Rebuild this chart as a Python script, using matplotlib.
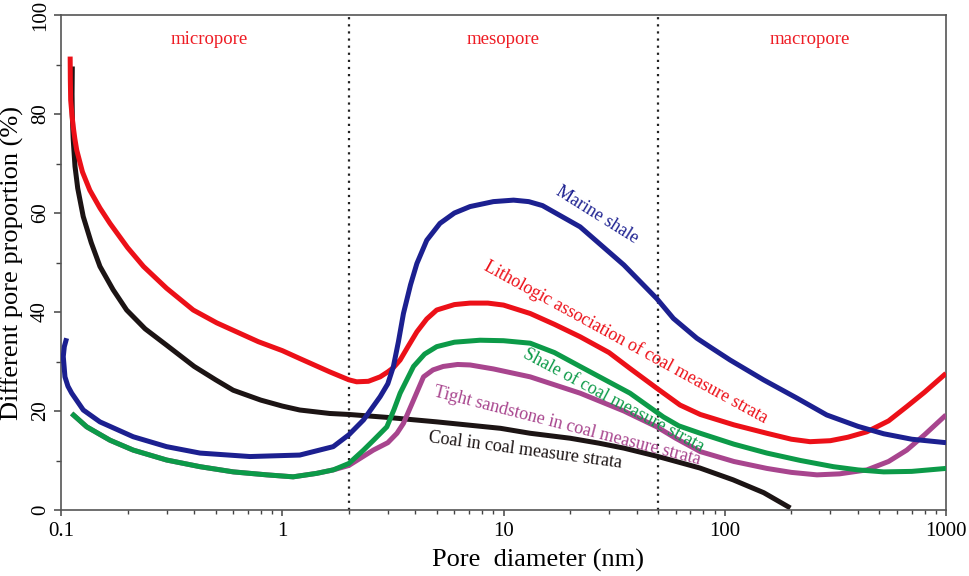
import numpy as np
import matplotlib
matplotlib.use('Agg')
import matplotlib.pyplot as plt
from matplotlib.ticker import FixedLocator, LogLocator, NullFormatter, MultipleLocator

plt.rcParams['font.family'] = ['Liberation Serif', 'DejaVu Serif']

# pore diameter (nm) / proportion (%)
coal_x = [0.1125, 0.1122, 0.1125, 0.1135, 0.1157, 0.119, 0.126, 0.137, 0.150, 0.172, 0.198,
          0.24, 0.30, 0.40, 0.50, 0.60, 0.80, 1.0, 1.2, 1.64, 2.0, 3.0, 5.0, 9.7, 13.2, 20,
          27, 35, 50, 77, 109, 150, 198]
coal_y = [89.6, 84.0, 79.5, 75.0, 69.4, 65.0, 59.3, 54.0, 49.2, 44.5, 40.4,
          36.6, 33.3, 29.0, 26.3, 24.2, 22.2, 21.0, 20.2, 19.5, 19.3, 18.7, 17.8, 16.5, 15.5, 14.5,
          13.5, 12.5, 10.8, 8.5, 6.1, 3.5, 0.4]

litho_x = [0.110, 0.1102, 0.1106, 0.112, 0.1135, 0.1155, 0.1178, 0.125, 0.135, 0.15, 0.1665,
           0.2, 0.236, 0.3, 0.396, 0.506, 0.78, 1.0, 1.2, 1.64, 2.0, 2.17, 2.45, 2.77, 3.0,
           3.17, 3.41, 3.7, 4.06, 4.5, 4.99, 6.0, 7.06, 8.5, 10, 13.2, 17, 22.2, 30, 37.3,
           49.3, 62.8, 77.5, 110, 155, 200, 243, 300, 360, 439, 550, 665, 800, 1000]
litho_y = [91.6, 87.0, 82.8, 80.0, 77.5, 75.0, 72.7, 68.3, 64.6, 61.0, 57.9,
           53.0, 49.2, 44.8, 40.4, 37.8, 34.0, 32.2, 30.6, 27.9, 26.3, 25.9, 26.0, 26.9, 27.9,
           28.7, 30.3, 33.0, 36.0, 38.6, 40.4, 41.5, 41.8, 41.8, 41.4, 39.7, 37.5, 35.0, 31.8, 28.6,
           24.6, 21.2, 19.3, 17.2, 15.5, 14.3, 13.8, 14.0, 14.7, 15.8, 18.0, 20.9, 23.8, 27.6]

marine_x = [0.106, 0.1035, 0.1024, 0.1042, 0.1075, 0.1118, 0.1261, 0.150, 0.212, 0.30,
            0.425, 0.715, 1.2, 1.70, 2.0, 2.33, 2.77, 3.0, 3.18, 3.35, 3.53, 3.8, 4.06,
            4.5, 5.16, 6.0, 7.06, 9.0, 11.1, 13, 15, 22.2, 35, 49.3, 58.6, 74.8, 88.8, 105.7,
            149.6, 212, 289, 400, 523, 700, 1000]
marine_y = [34.7, 33.0, 31.0, 26.9, 25.0, 23.6, 20.2, 17.8, 14.8, 12.8,
            11.5, 10.8, 11.1, 12.8, 15.2, 18.2, 22.9, 25.5, 29.0, 34.0, 39.7, 45.5, 49.8,
            54.5, 57.9, 60.0, 61.3, 62.3, 62.6, 62.3, 61.5, 57.2, 49.5, 42.7, 38.7, 34.7, 32.5, 30.3,
            26.3, 22.6, 19.2, 16.9, 15.4, 14.3, 13.6]

shale_x = [0.1118, 0.1307, 0.1665, 0.212, 0.30, 0.425, 0.601, 0.851, 1.12, 1.43, 1.70,
           2.0, 2.33, 2.6, 2.97, 3.2, 3.41, 3.92, 4.4, 4.99, 6.0, 7.83, 10, 13.2, 17, 22.2,
           37.3, 52.8, 62, 77.5, 110, 155, 220, 310, 400, 523, 700, 1000]
shale_y = [19.5, 16.8, 14.1, 12.1, 10.1, 8.75, 7.7, 7.1, 6.7, 7.4, 8.1,
           9.4, 12.1, 14.2, 16.8, 20.3, 23.6, 29.0, 31.5, 33.0, 33.9, 34.3, 34.2, 33.7, 31.8, 29.0,
           23.6, 18.8, 17.0, 15.5, 13.3, 11.5, 10.0, 8.75, 8.1, 7.7, 7.8, 8.4]

tight_x = [0.1118, 0.1307, 0.1665, 0.212, 0.30, 0.425, 0.601, 0.851, 1.12, 1.43, 1.70,
           2.0, 2.58, 3.0, 3.3, 3.53, 3.92, 4.35, 4.8, 5.34, 6.2, 7.06, 9.0, 13.2, 22.2, 35,
           49.3, 60, 77.5, 110, 155, 200, 261, 330, 439, 550, 665, 800, 1000]
tight_y = [19.5, 16.8, 14.1, 12.1, 10.1, 8.75, 7.7, 7.1, 6.7, 7.4, 8.1,
           9.0, 12.1, 13.6, 15.5, 17.5, 22.2, 26.9, 28.3, 29.0, 29.4, 29.3, 28.5, 26.9, 23.6, 20.0,
           16.8, 14.5, 11.8, 9.8, 8.4, 7.6, 7.1, 7.3, 8.1, 9.8, 12.1, 15.2, 19.2]

bounds = [2, 50]
regions = ['micropore', 'mesopore', 'macropore']
region_x = [0.47, 10, 243]

fig = plt.figure(figsize=(9.69, 5.76), dpi=100)
ax = fig.add_axes([61/969, 1-510/576, (946-61)/969, (510-15)/576])

lw = 3.6
kw = dict(lw=lw, solid_capstyle='butt', solid_joinstyle='round')
ax.plot(coal_x, coal_y, color='#1c1414', zorder=2, **kw)
ax.plot(tight_x, tight_y, color='#a8458e', zorder=3, **kw)
ax.plot(shale_x, shale_y, color='#0c9a48', zorder=4, **kw)
ax.plot(litho_x, litho_y, color='#ec1018', zorder=5, **kw)
ax.plot(marine_x, marine_y, color='#1c2090', zorder=6, **kw)

for b in bounds:
    ax.axvline(b, color='#222222', lw=1.6, ls=(0, (1, 2.2)), zorder=1)

for name, xr in zip(regions, region_x):
    ax.text(xr, 95.0, name, color='#ee1c24', fontsize=13.5, ha='center', va='center')

# curve labels
ax.text(26.5, 59.6, 'Marine shale', color='#1c2090', fontsize=13,
        rotation=-32, ha='center', va='center', rotation_mode='anchor')
ax.text(35.8, 33.9, 'Lithologic association of coal measure strata', color='#ec1018',
        fontsize=13, rotation=-28.7, ha='center', va='center', rotation_mode='anchor')
ax.text(31.3, 22.2, 'Shale of coal measure strata', color='#0c9a48', fontsize=13,
        rotation=-28, ha='center', va='center', rotation_mode='anchor')
ax.text(19.4, 17.0, 'Tight sandstone in coal measure strata', color='#a8458e',
        fontsize=13, rotation=-14.4, ha='center', va='center', rotation_mode='anchor')
ax.text(12.5, 12.1, 'Coal in coal measure strata', color='#1c1414', fontsize=13,
        rotation=-7.6, ha='center', va='center', rotation_mode='anchor')

ax.set_xscale('log')
ax.set_xlim(0.1, 1000)
ax.set_ylim(0, 100)
ax.xaxis.set_major_locator(FixedLocator([0.1, 1, 10, 100, 1000]))
ax.set_xticklabels(['0.1', '1', '10', '100', '1000'])
ax.xaxis.set_minor_locator(LogLocator(base=10, subs=np.arange(2, 10)))
ax.xaxis.set_minor_formatter(NullFormatter())
ax.yaxis.set_major_locator(MultipleLocator(20))
ax.yaxis.set_minor_locator(MultipleLocator(10))

for s in ax.spines.values():
    s.set_color('#555555')
    s.set_linewidth(1.2)

ax.tick_params(axis='both', which='both', direction='out', color='#444444',
               labelsize=15, top=False, right=False)
ax.tick_params(axis='x', which='major', length=4.5, width=1.1, pad=4)
ax.tick_params(axis='x', which='minor', length=3, width=1.0)
ax.tick_params(axis='y', which='major', length=5, width=1.1, pad=3)
ax.tick_params(axis='y', which='minor', length=3.5, width=1.0)
for lab in ax.get_yticklabels():
    lab.set_rotation(90)
    lab.set_va('center')

ax.set_xlabel('Pore  diameter (nm)', fontsize=19, va='center')
ax.xaxis.set_label_coords((538-61)/885, -(560-510)/495)
ax.set_ylabel('Different pore proportion (%)', fontsize=19, va='center')
ax.yaxis.set_label_coords(-(61-12)/885, 0.5)

fig.savefig('out.png', dpi=100)
